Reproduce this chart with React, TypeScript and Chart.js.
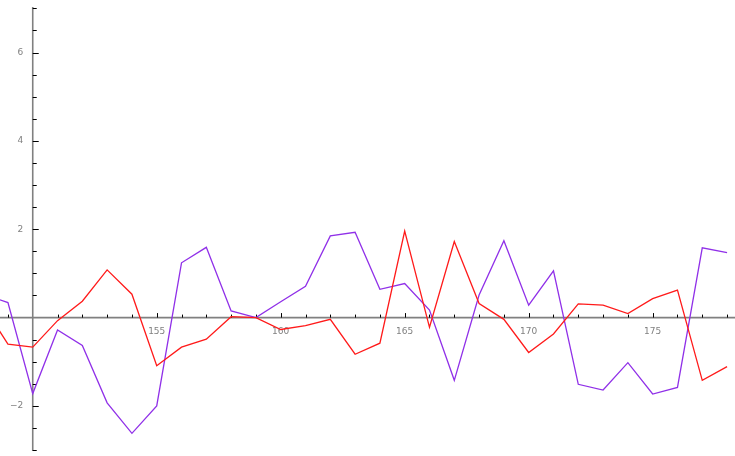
import React, { useEffect, useRef } from "react";
import { Chart, registerables } from "chart.js";

Chart.register(...registerables);

const xValues = [148, 149, 150, 151, 152, 153, 154, 155, 156, 157, 158, 159, 160, 161, 162, 163, 164, 165, 166, 167, 168, 169, 170, 171, 172, 173, 174, 175, 176, 177, 178];
const redSeries = [0.27, -0.6, -0.67, -0.07, 0.37, 1.08, 0.53, -1.09, -0.67, -0.49, 0.02, 0.0, -0.27, -0.18, -0.04, -0.83, -0.58, 1.96, -0.22, 1.72, 0.32, -0.04, -0.79, -0.37, 0.31, 0.28, 0.09, 0.43, 0.62, -1.42, -1.11];
const purpleSeries = [0.53, 0.34, -1.72, -0.28, -0.63, -1.93, -2.62, -2.0, 1.24, 1.59, 0.15, 0.0, 0.36, 0.71, 1.85, 1.93, 0.64, 0.77, 0.17, -1.42, 0.51, 1.74, 0.28, 1.06, -1.51, -1.64, -1.02, -1.73, -1.58, 1.58, 1.47];
const xTickLabels = [155, 160, 165, 170, 175];
const yTickLabels = [-2, 2, 4, 6];

const X_MIN = 148.68;
const X_MAX = 178.32;
const Y_MIN = -3.02;
const Y_MAX = 7.03;

const axesPlugin = {
  id: "originAxes",
  beforeDatasetsDraw(chart: any) {
    const { ctx, scales } = chart;
    const xs = scales.x;
    const ys = scales.y;
    const x0 = xs.getPixelForValue(150);
    const y0 = ys.getPixelForValue(0);
    ctx.save();
    ctx.strokeStyle = "#808080";
    ctx.lineWidth = 1.6;
    ctx.beginPath();
    ctx.moveTo(xs.left, y0);
    ctx.lineTo(xs.right, y0);
    ctx.moveTo(x0, ys.getPixelForValue(Y_MAX));
    ctx.lineTo(x0, ys.getPixelForValue(Y_MIN));
    ctx.stroke();
    ctx.strokeStyle = "#000000";
    ctx.lineWidth = 1;
    ctx.beginPath();
    for (let v = 149; v <= 178; v++) {
      if (v === 150) continue;
      const px = Math.round(xs.getPixelForValue(v)) + 0.5;
      const len = v % 5 === 0 ? 4.5 : 3;
      ctx.moveTo(px, y0);
      ctx.lineTo(px, y0 - len);
    }
    for (let k = -6; k <= 14; k++) {
      const v = k * 0.5;
      if (v === 0) continue;
      const py = Math.round(ys.getPixelForValue(v)) + 0.5;
      const len = k % 4 === 0 ? 6 : 4;
      ctx.moveTo(x0, py);
      ctx.lineTo(x0 + len, py);
    }
    ctx.stroke();
    ctx.fillStyle = "#808080";
    ctx.font = "9px 'DejaVu Sans', sans-serif";
    ctx.textAlign = "center";
    ctx.textBaseline = "middle";
    xTickLabels.forEach((v) => {
      ctx.fillText(String(v), xs.getPixelForValue(v), y0 + 14.5);
    });
    ctx.textAlign = "right";
    yTickLabels.forEach((v) => {
      const label = v < 0 ? "\u2212" + String(Math.abs(v)) : String(v);
      ctx.fillText(label, x0 - 9.5, ys.getPixelForValue(v));
    });
    ctx.restore();
  },
};

export default function App() {
  const canvasRef = useRef<HTMLCanvasElement | null>(null);

  useEffect(() => {
    document.body.style.margin = "0";
    const canvas = canvasRef.current;
    if (!canvas) return;
    const chart = new Chart(canvas, {
      type: "line",
      data: {
        datasets: [
          {
            label: "red",
            data: xValues.map((x, i) => ({ x, y: redSeries[i] })),
            borderColor: "#ff1a1a",
            borderWidth: 1.3,
            pointRadius: 0,
            tension: 0,
            fill: false,
          },
          {
            label: "purple",
            data: xValues.map((x, i) => ({ x, y: purpleSeries[i] })),
            borderColor: "#9030e8",
            borderWidth: 1.3,
            pointRadius: 0,
            tension: 0,
            fill: false,
          },
        ],
      },
      options: {
        animation: false,
        responsive: false,
        devicePixelRatio: 1,
        layout: { padding: { top: 7, bottom: 5, left: 0, right: 0 } },
        plugins: {
          legend: { display: false },
          tooltip: { enabled: false },
        },
        scales: {
          x: { type: "linear", min: X_MIN, max: X_MAX, display: false },
          y: { type: "linear", min: Y_MIN, max: Y_MAX, display: false },
        },
      },
      plugins: [axesPlugin],
    });
    return () => chart.destroy();
  }, []);

  return (
    <div style={{ width: 735, height: 456, background: "#ffffff" }}>
      <canvas ref={canvasRef} width={735} height={456} style={{ display: "block" }} />
    </div>
  );
}
